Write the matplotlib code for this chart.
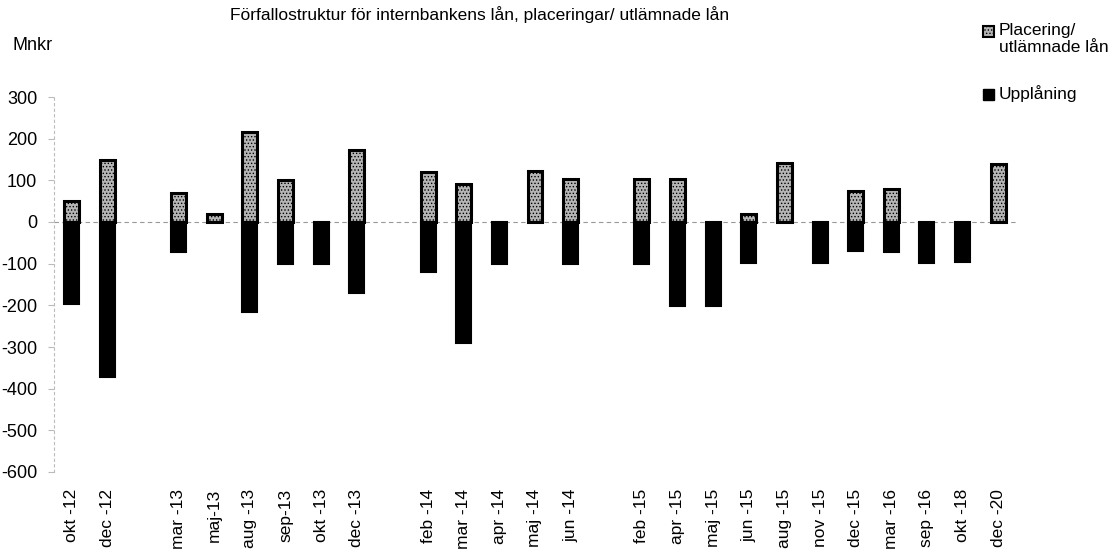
import matplotlib
matplotlib.use("Agg")
import matplotlib.pyplot as plt
import numpy as np
from matplotlib.patches import Rectangle

plt.rcParams['font.family'] = ['Liberation Sans', 'DejaVu Sans']
plt.rcParams['hatch.color'] = '#777777'
plt.rcParams['hatch.linewidth'] = 0.6

categories = ["okt -12", "dec -12", "", "mar -13", "maj-13", "aug -13", "sep-13", "okt -13", "dec -13",
              "", "feb -14", "mar -14", "apr -14", "maj -14", "jun -14",
              "", "feb -15", "apr -15", "maj -15", "jun -15", "aug -15", "nov -15", "dec -15",
              "mar -16", "sep -16", "okt -18", "dec -20"]
placering = [50, 150, 0, 70, 20, 217, 100, 0, 172,
             0, 120, 92, 0, 123, 103,
             0, 103, 104, 0, 20, 141, 0, 75, 79, 0, 0, 139]
upplaning = [-197, -371, 0, -71, 0, -217, -100, -100, -170,
             0, -121, -291, -100, 0, -100,
             0, -100, -201, -201, -99, 0, -98, -69, -73, -98, -97, 0]
yticks = [300, 200, 100, 0, -100, -200, -300, -400, -500, -600]
legend_labels = ["Placering/", "utlämnade lån", "Upplåning"]

W, H = 1113, 549
fig = plt.figure(figsize=(W/100, H/100), dpi=100)
ax = fig.add_axes([54/W, 1-472/H, (1016-54)/W, (472-97)/H])

x = np.arange(len(categories))
mask_p = np.array(placering) != 0
mask_u = np.array(upplaning) != 0
ax.bar(x[mask_p], np.array(placering)[mask_p], width=0.42, color='#b5b5b5', edgecolor='black',
       linewidth=2.2, hatch='.....', zorder=3)
ax.bar(x[mask_u], np.array(upplaning)[mask_u], width=0.42, color='black', edgecolor='black',
       linewidth=1.5, zorder=3)

ax.axhline(0, color='#999999', linestyle=(0, (4, 3)), linewidth=0.8, zorder=1)
ax.set_xlim(-0.5, len(categories) - 0.5)
ax.set_ylim(-600, 300)
ax.set_yticks(yticks)
ax.set_yticklabels([str(v) for v in yticks], fontsize=13)
ax.set_xticks(x)
ax.set_xticklabels(categories, rotation=90, fontsize=12.5)
ax.tick_params(axis='x', length=0, pad=12)
ax.tick_params(axis='y', length=4, color='#bbbbbb', width=0.8, pad=8)
for s in ['top', 'right', 'bottom']:
    ax.spines[s].set_visible(False)
ax.spines['left'].set_color('#bbbbbb')
ax.spines['left'].set_linestyle((0, (2, 3)))
ax.spines['left'].set_linewidth(0.8)

fig.text(480/W, 1-15/H, "Förfallostruktur för internbankens lån, placeringar/ utlämnade lån",
         ha='center', va='center', fontsize=12.5)
fig.text(12/W, 1-45/H, "Mnkr", ha='left', va='center', fontsize=13)

# legend (manual, to keep two-line label left-aligned with marker on first line)
fig.patches.append(Rectangle((983/W, 1-37/H), 11/W, 11/H, transform=fig.transFigure,
                             facecolor='#b5b5b5', edgecolor='black', linewidth=1.5, hatch='.....'))
fig.patches.append(Rectangle((983/W, 1-100/H), 11/W, 11/H, transform=fig.transFigure,
                             facecolor='black', edgecolor='black', linewidth=1.0))
fig.text(999/W, 1-31/H, legend_labels[0], ha='left', va='center', fontsize=12.5)
fig.text(999/W, 1-48/H, legend_labels[1], ha='left', va='center', fontsize=12.5)
fig.text(999/W, 1-94/H, legend_labels[2], ha='left', va='center', fontsize=12.5)

fig.savefig("out.png", dpi=100)
